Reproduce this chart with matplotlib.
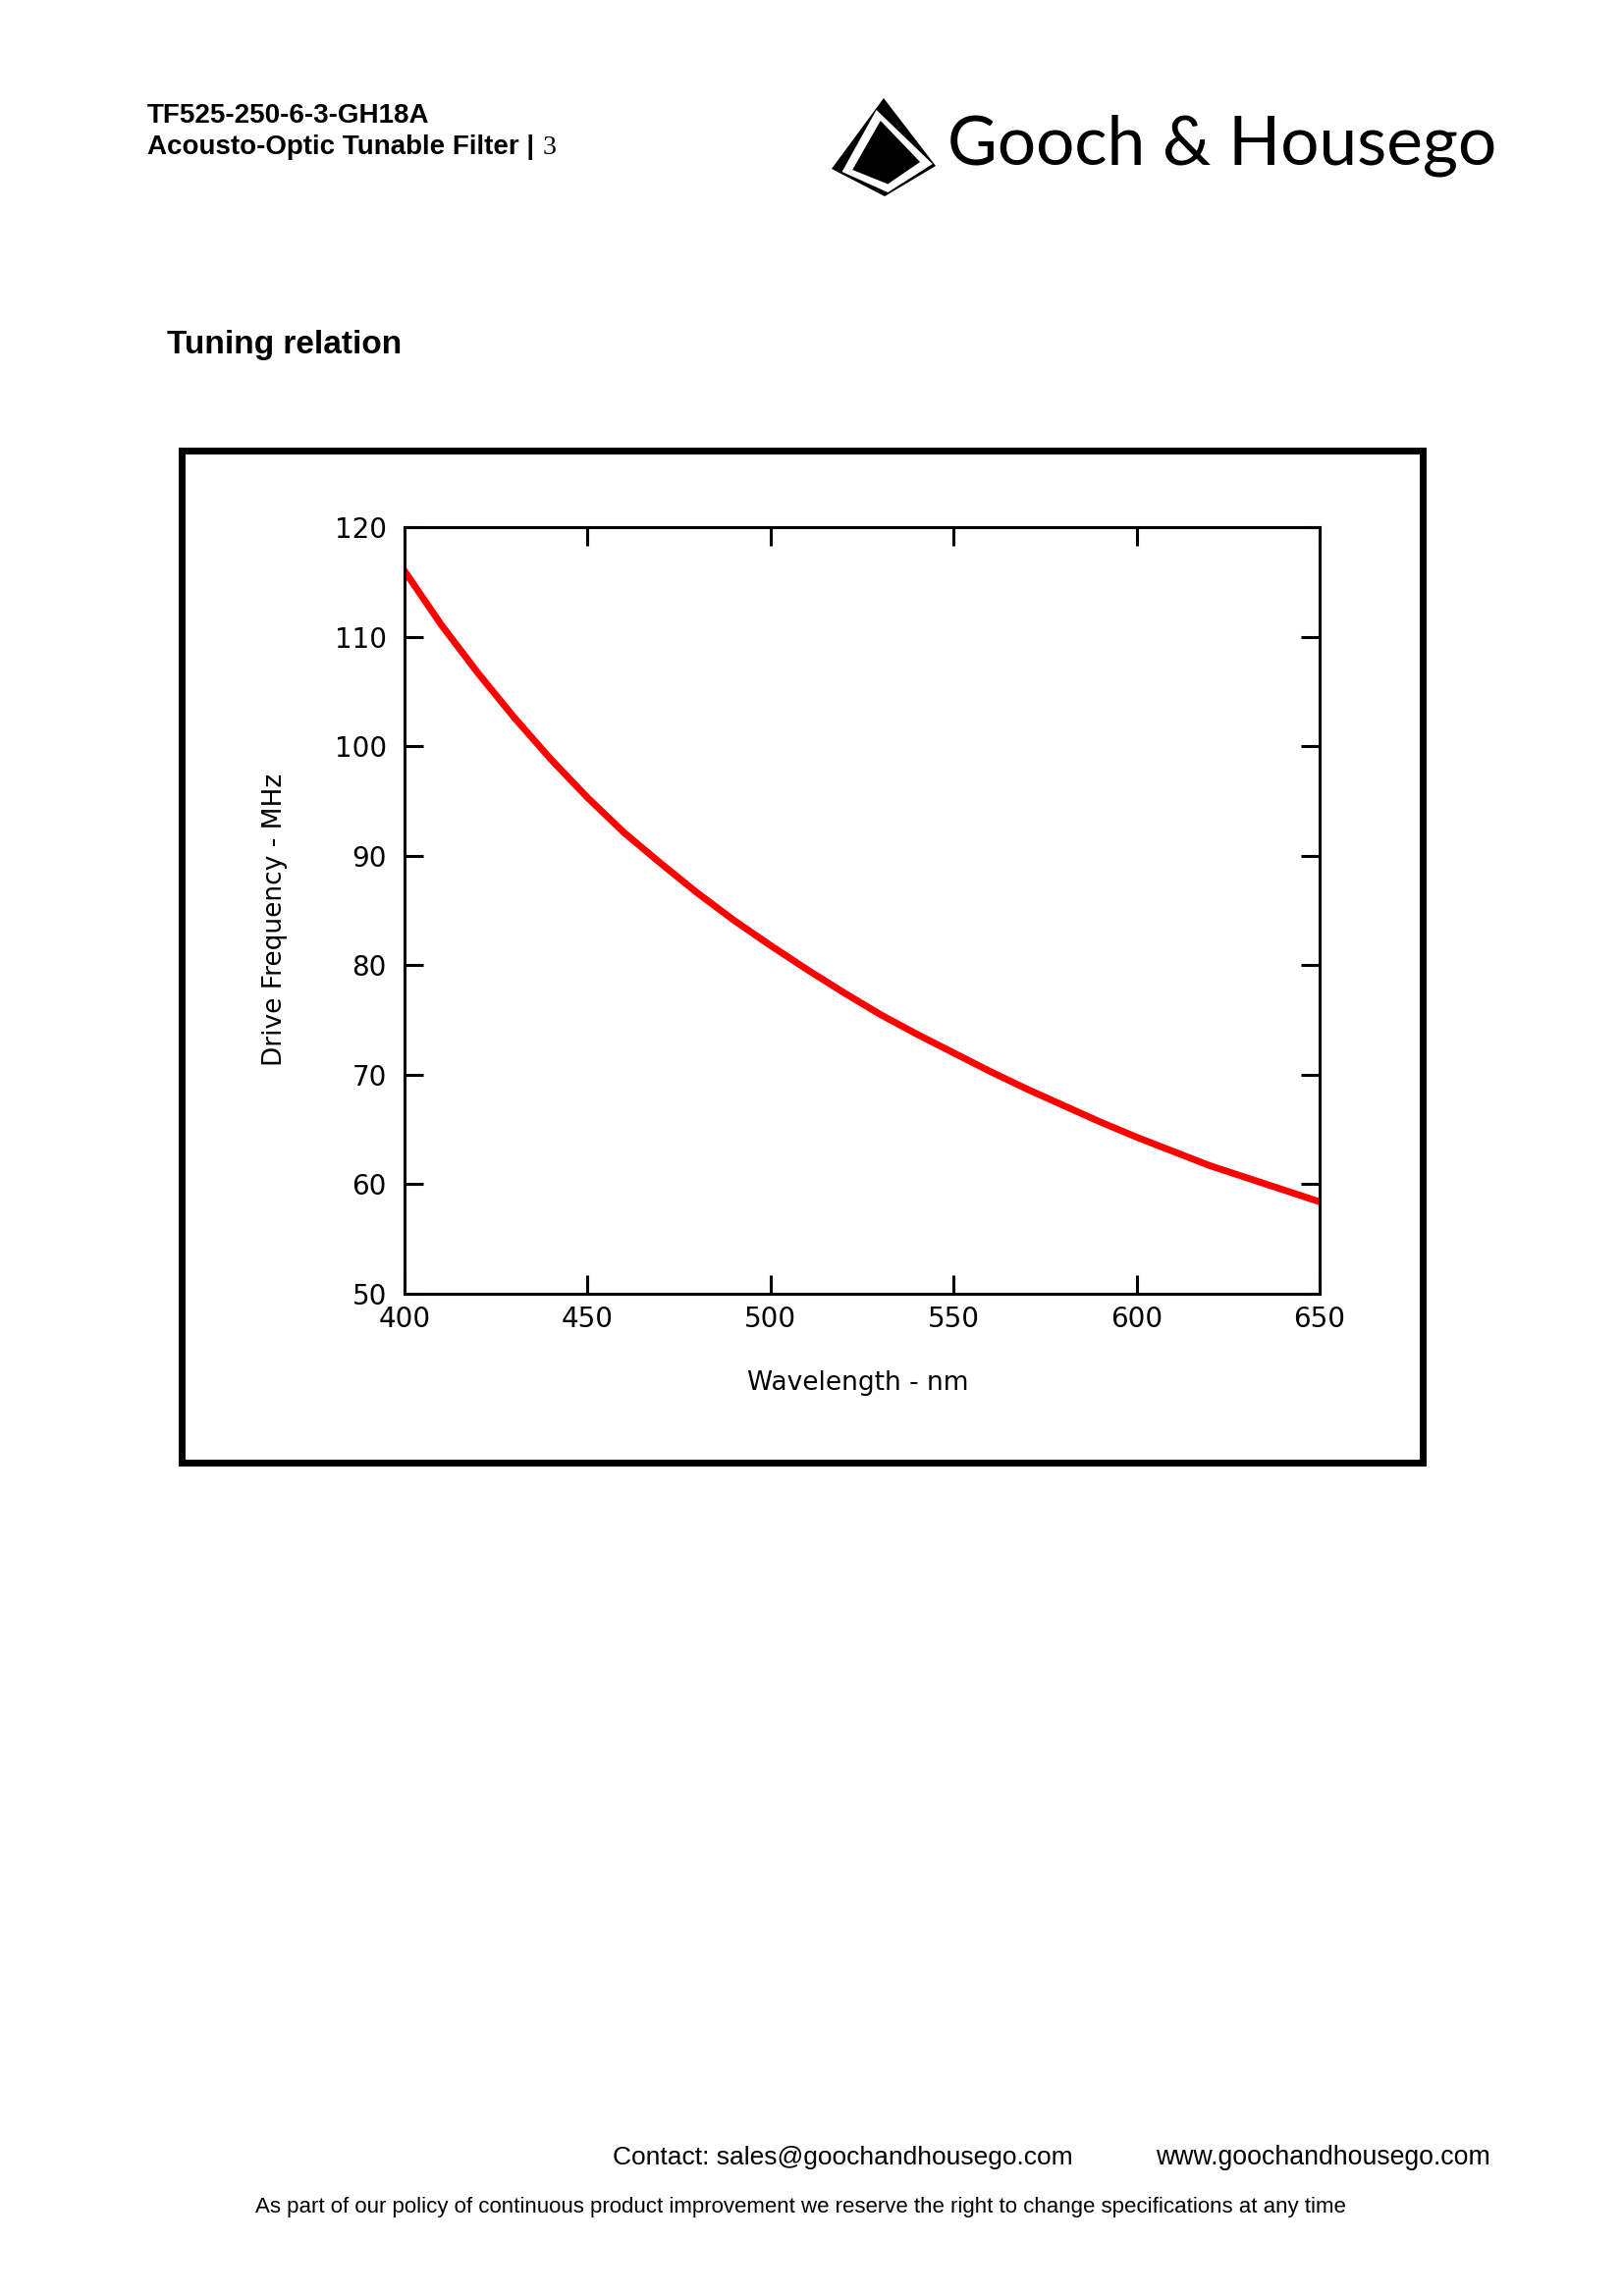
import matplotlib
matplotlib.use("Agg")
import matplotlib.pyplot as plt
from matplotlib.patches import Polygon, Rectangle
from matplotlib.transforms import Affine2D

# Tuning relation (every 10 nm)
wavelength = [400, 410, 420, 430, 440, 450, 460, 470, 480, 490, 500, 510, 520,
              530, 540, 550, 560, 570, 580, 590, 600, 610, 620, 630, 640, 650]
frequency = [116.0, 111.1, 106.7, 102.6, 98.8, 95.3, 92.1, 89.3, 86.6, 84.1,
             81.8, 79.6, 77.5, 75.5, 73.7, 72.0, 70.3, 68.7, 67.2, 65.7,
             64.3, 63.0, 61.7, 60.6, 59.5, 58.4]
x_ticks = [400, 450, 500, 550, 600, 650]
y_ticks = [50, 60, 70, 80, 90, 100, 110, 120]

W, H = 1653, 2339
fig = plt.figure(figsize=(W / 200, H / 200), dpi=200)
fig.patch.set_facecolor("white")
# pixel coordinates measured from the top-left corner of the page
px = Affine2D().scale(1 / W, -1 / H).translate(0, 1) + fig.transFigure

# page header
fig.text(150, 125, "TF525-250-6-3-GH18A", transform=px, family="Liberation Sans",
         weight="bold", fontsize=10, va="baseline")
fig.text(150, 157, "Acousto-Optic Tunable Filter |", transform=px,
         family="Liberation Sans", weight="bold", fontsize=10, va="baseline")
fig.text(553, 157, "3", transform=px, family="Liberation Serif", fontsize=10,
         va="baseline")

# logo: black pyramid with white inset stripe + company name
def logo_pts(pts):
    return [(847 + u * 106, 100 + v * 100) for u, v in pts]

outer = [(0.50, 0.0), (0.0, 0.72), (0.51, 1.0), (1.0, 0.69)]
stripe = [(0.43, 0.12), (0.10, 0.75), (0.54, 0.96), (0.97, 0.67)]
inner = [(0.47, 0.23), (0.20, 0.73), (0.54, 0.875), (0.85, 0.65)]
for pts, col in [(outer, "black"), (stripe, "white"), (inner, "black")]:
    fig.add_artist(Polygon(logo_pts(pts), closed=True, transform=px,
                           facecolor=col, edgecolor="none"))
fig.text(965, 167, "Gooch & Housego", transform=px, family="Lato",
         fontsize=25, va="baseline")

fig.text(170, 360, "Tuning relation", transform=px, family="Liberation Sans",
         weight="bold", fontsize=12, va="baseline")

# heavy frame around the chart
fig.add_artist(Rectangle((184.5, 458.5), 1264.5, 1031.5, transform=px, fill=False,
                         edgecolor="black", linewidth=2.5))

ax = fig.add_axes([412 / W, 1 - 1318 / H, (1344 - 412) / W, (1318 - 537) / H])
ax.plot(wavelength, frequency, color="red", linewidth=2.5, solid_capstyle="round")
ax.set_xlim(400, 650)
ax.set_ylim(50, 120)
ax.set_xticks(x_ticks)
ax.set_yticks(y_ticks)
for s in ax.spines.values():
    s.set_linewidth(1.1)
ax.tick_params(direction="in", length=6.8, width=1.1, top=True, right=True,
               labelsize=10)
ax.tick_params(axis="y", pad=6.5)
ax.tick_params(axis="x", pad=4.3)
ax.set_xlabel("Wavelength - nm", fontsize=9.5)
ax.set_ylabel("Drive Frequency - MHz", fontsize=9.5)
ax.xaxis.set_label_coords(0.495, -0.1)
ax.yaxis.set_label_coords(-0.128, 0.488)

# footer
fig.text(624, 2205, "Contact: sales@goochandhousego.com", transform=px,
         family="Liberation Sans", fontsize=9.5, va="baseline")
fig.text(1177, 2205, "www.goochandhousego.com", transform=px,
         family="Liberation Sans", fontsize=9.6, va="baseline")
fig.text(260, 2254, "As part of our policy of continuous product improvement we "
         "reserve the right to change specifications at any time", transform=px,
         family="Liberation Sans", fontsize=8.0, va="baseline")

fig.savefig("out.png", dpi=200, facecolor="white")
